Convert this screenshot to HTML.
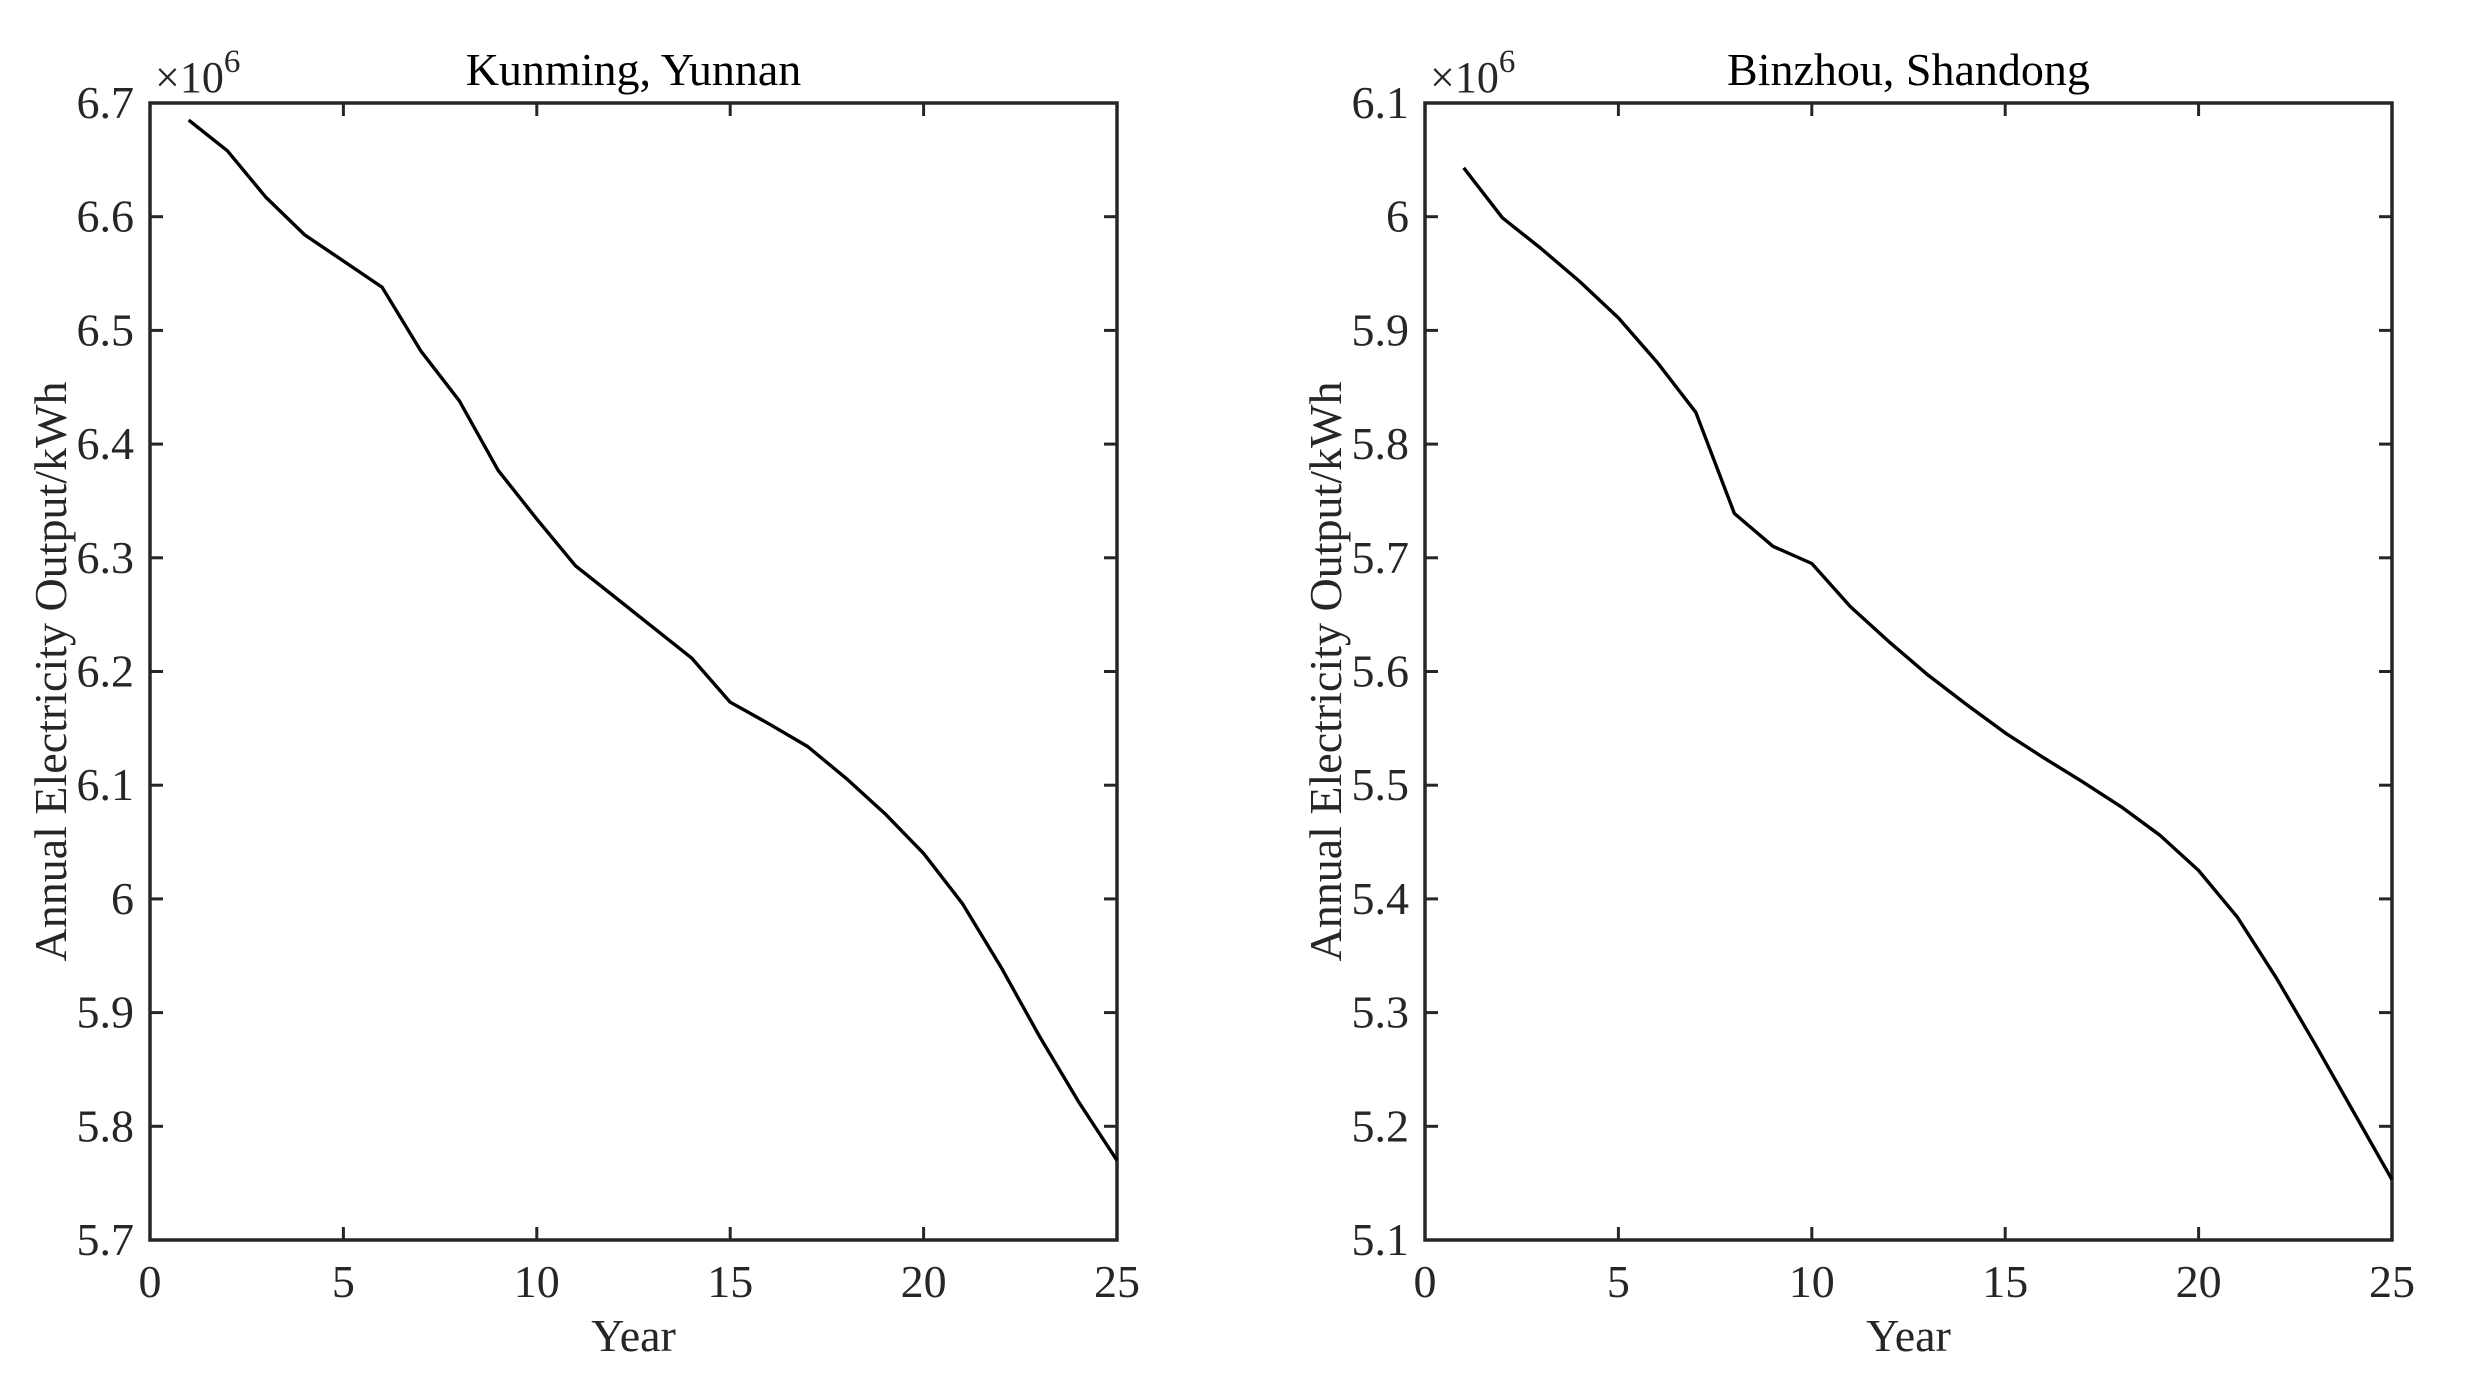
<!DOCTYPE html>
<html><head><meta charset="utf-8"><style>
html,body{margin:0;padding:0;background:#fff;}
svg{display:block;}
text{font-family:"Liberation Serif",serif;fill:#262626;}
</style></head><body>
<svg id="fig" width="2484" height="1380" viewBox="0 0 2484 1380" xmlns="http://www.w3.org/2000/svg"></svg>
<script>
const years = [1,2,3,4,5,6,7,8,9,10,11,12,13,14,15,16,17,18,19,20,21,22,23,24,25];
const kunmingValues = [6.685,6.658,6.617,6.584,6.561,6.538,6.482,6.438,6.377,6.334,6.293,6.266,6.239,6.212,6.173,6.154,6.134,6.106,6.075,6.040,5.996,5.940,5.879,5.822,5.770];
const binzhouValues = [6.043,5.999,5.972,5.943,5.911,5.872,5.828,5.739,5.710,5.695,5.657,5.626,5.597,5.571,5.546,5.524,5.503,5.481,5.456,5.425,5.384,5.331,5.273,5.213,5.153];
const xTicks = [0,5,10,15,20,25];
const kunmingYTicks = [5.7,5.8,5.9,6.0,6.1,6.2,6.3,6.4,6.5,6.6,6.7];
const kunmingYLabels = ["5.7","5.8","5.9","6","6.1","6.2","6.3","6.4","6.5","6.6","6.7"];
const binzhouYTicks = [5.1,5.2,5.3,5.4,5.5,5.6,5.7,5.8,5.9,6.0,6.1];
const binzhouYLabels = ["5.1","5.2","5.3","5.4","5.5","5.6","5.7","5.8","5.9","6","6.1"];

const NS = "http://www.w3.org/2000/svg";
const svg = document.getElementById('fig');
function mk(tag, attrs, parent){const e=document.createElementNS(NS,tag);for(const k in attrs)e.setAttribute(k,attrs[k]);(parent||svg).appendChild(e);return e;}

function panel(key, left, right, title, vals, yTicks, yLabels, yMin, yMax){
  const top=103, bottom=1240;
  const g = mk('g',{});
  
  
  const sx = v => left + (v-0)/(25-0)*(right-left);
  const sy = v => bottom - (v-yMin)/(yMax-yMin)*(bottom-top);
  xTicks.forEach(t=>{
    const x=sx(t);
    mk('line',{x1:x,y1:bottom,x2:x,y2:bottom-13,stroke:'#262626','stroke-width':3},g);
    mk('line',{x1:x,y1:top,x2:x,y2:top+13,stroke:'#262626','stroke-width':3},g);
    const tx=mk('text',{x:x,y:1297,'font-size':46,'text-anchor':'middle'},g);
    tx.textContent=t;
    
    
  });
  yTicks.forEach((t,i)=>{
    const y=sy(t);
    mk('line',{x1:left,y1:y,x2:left+13,y2:y,stroke:'#262626','stroke-width':3},g);
    mk('line',{x1:right,y1:y,x2:right-13,y2:y,stroke:'#262626','stroke-width':3},g);
    const ty=mk('text',{x:left-16,y:y+15,'font-size':46,'text-anchor':'end'},g);
    ty.textContent=yLabels[i];
    
    
  });
  const box=mk('rect',{x:left,y:top,width:right-left,height:bottom-top,fill:'none',stroke:'#262626','stroke-width':3.5},g);
  
  
  const pts = years.map((yr,i)=>sx(yr).toFixed(1)+','+sy(vals[i]).toFixed(1)).join(' ');
  const line=mk('polyline',{points:pts,fill:'none',stroke:'#000','stroke-width':3.4,'stroke-linejoin':'round'},g);
  
  
  const tt=mk('text',{x:(left+right)/2,y:85,'font-size':46,'text-anchor':'middle',style:'fill:#000'},g);
  tt.textContent=title;
  
  
  const ex=mk('text',{x:left+5,y:92,'font-size':44},g);
  ex.innerHTML='×10<tspan dy="-20" font-size="33">6</tspan>';
  
  
  const xl=mk('text',{x:(left+right)/2,y:1351,'font-size':46,'text-anchor':'middle'},g);
  xl.textContent='Year';
  
  
  const cy=(top+bottom)/2, cx=left-84;
  const yl=mk('text',{x:cx,y:cy,'font-size':46,'text-anchor':'middle',transform:'rotate(-90 '+cx+' '+cy+')'},g);
  yl.textContent='Annual Electricity Output/kWh';
  
  
}
panel('kunming',150,1117,'Kunming, Yunnan',kunmingValues,kunmingYTicks,kunmingYLabels,5.7,6.7);
panel('binzhou',1425,2392,'Binzhou, Shandong',binzhouValues,binzhouYTicks,binzhouYLabels,5.1,6.1);
</script>
</body></html>
